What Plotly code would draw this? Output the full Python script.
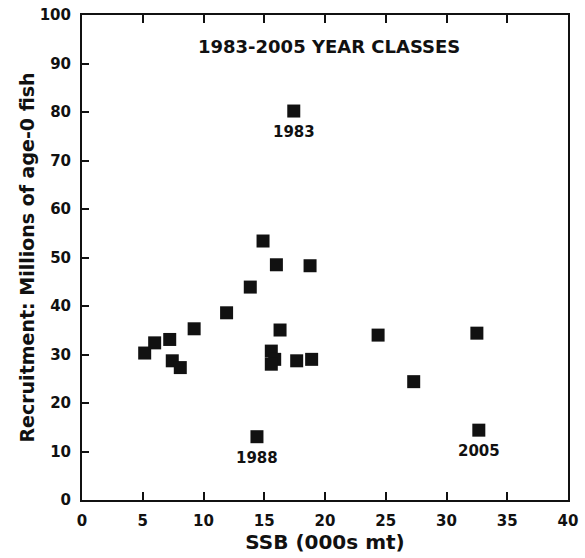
import plotly.graph_objects as go

# Data
ssb = [5.16, 5.98, 7.22, 7.43, 8.09, 9.23, 11.9, 13.85, 14.9, 16.0, 18.77, 16.3,
       15.58, 15.86, 15.58, 17.67, 18.9, 24.37, 27.3, 32.5, 32.66, 14.4, 17.43]
recruits = [30.3, 32.4, 33.1, 28.7, 27.3, 35.3, 38.6, 43.9, 53.4, 48.5, 48.3, 35.05,
            30.7, 29.0, 28.0, 28.7, 29.0, 34.0, 24.4, 34.4, 14.4, 13.05, 80.2]

label_years = ["1983", "1988", "2005"]
label_ssb = [17.43, 14.4, 32.66]
label_rec = [80.2, 13.05, 14.4]

x_ticks = [0, 5, 10, 15, 20, 25, 30, 35, 40]
y_ticks = [0, 10, 20, 30, 40, 50, 60, 70, 80, 90, 100]

title_text = "1983-2005 YEAR CLASSES"
x_title = "SSB (000s mt)"
y_title = "Recruitment: Millions of age-0 fish"

FONT = "DejaVu Sans"

fig = go.Figure()
fig.add_trace(go.Scatter(
    x=ssb, y=recruits, mode="markers",
    marker=dict(symbol="square", size=13, color="#111111", line=dict(width=0)),
    showlegend=False, hoverinfo="x+y",
))

annotations = []
for yr, xv, yv in zip(label_years, label_ssb, label_rec):
    annotations.append(dict(
        x=xv, y=yv, xref="x", yref="y", text=yr, showarrow=False,
        yshift=-21, font=dict(family=FONT, size=15, color="#111111", weight="bold"),
    ))
annotations.append(dict(
    x=20.3, y=93.6, xref="x", yref="y", text=title_text, showarrow=False,
    font=dict(family=FONT, size=18, color="#111111", weight="bold"),
))

fig.update_layout(
    width=585, height=558,
    margin=dict(l=82, r=17, t=15, b=58, autoexpand=False),
    paper_bgcolor="white", plot_bgcolor="white",
    font=dict(family=FONT, color="#111111"),
    annotations=annotations,
)
fig.update_xaxes(
    range=[0, 40], tickvals=x_ticks, ticktext=[str(v) for v in x_ticks],
    showgrid=False, zeroline=False, automargin=False,
    showline=True, linecolor="#111111", linewidth=2, mirror="ticks",
    ticks="inside", ticklen=8, tickwidth=2, tickcolor="#111111",
    ticklabelstandoff=6,
    tickfont=dict(family=FONT, size=15, color="#111111", weight="bold"),
    title=dict(text=x_title, standoff=6,
               font=dict(family=FONT, size=20, color="#111111", weight="bold")),
)
fig.update_yaxes(
    range=[0, 100], tickvals=y_ticks, ticktext=[str(v) for v in y_ticks],
    showgrid=False, zeroline=False, automargin=False,
    showline=True, linecolor="#111111", linewidth=2, mirror=True,
    ticks="inside", ticklen=7, tickwidth=2, tickcolor="#111111",
    ticklabelstandoff=6,
    tickfont=dict(family=FONT, size=15, color="#111111", weight="bold"),
    title=dict(text=y_title, standoff=0,
               font=dict(family=FONT, size=19, color="#111111", weight="bold")),
)

fig.write_html("out.html")
